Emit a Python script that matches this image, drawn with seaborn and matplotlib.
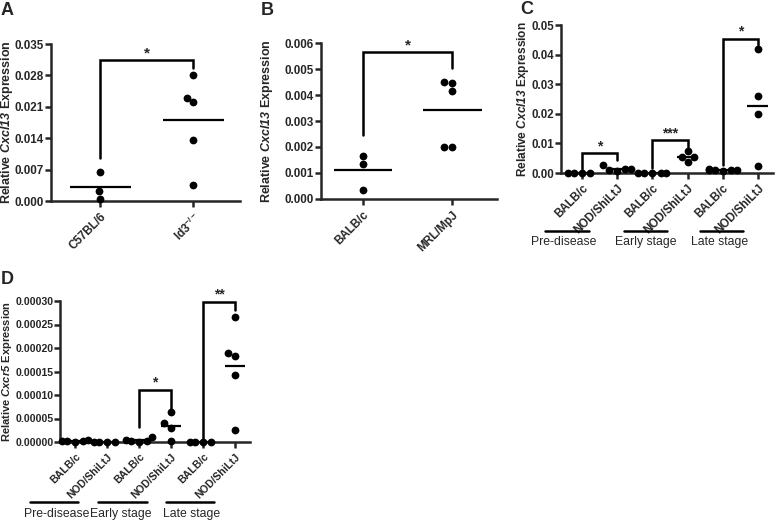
import numpy as np
import pandas as pd
import matplotlib
matplotlib.use("Agg")
import matplotlib.pyplot as plt
from matplotlib.lines import Line2D
import seaborn as sns

# ---- data ----
a_groups = ["C57BL/6", "Id3$^{\\mathbf{-/-}}$"]
a_c57 = [0.0065, 0.0022, 0.0005]
a_id3 = [0.028, 0.023, 0.022, 0.0135, 0.0035]

b_groups = ["BALB/c", "MRL/MpJ"]
b_balb = [0.00165, 0.00135, 0.00035]
b_mrl = [0.00445, 0.00415, 0.0045, 0.0020, 0.0020]

strain_labels = ["BALB/c", "NOD/ShiLtJ", "BALB/c", "NOD/ShiLtJ", "BALB/c", "NOD/ShiLtJ"]
stage_names = ["Pre-disease", "Early stage", "Late stage"]

c_pre_balb = [0.0, 0.0, 0.0, 0.0]
c_pre_nod = [0.0028, 0.0015, 0.0014, 0.0010, 0.0008]
c_early_balb = [0.0, 0.0, 0.0, 0.0, 0.0]
c_early_nod = [0.0073, 0.0055, 0.0055, 0.0037]
c_late_balb = [0.0012, 0.0010, 0.0010, 0.0009, 0.0009, 0.0008]
c_late_nod = [0.042, 0.026, 0.020, 0.0025]

d_pre_balb = [0.000004, 0.000003, 0.000002, 0.000002, 0.000001]
d_pre_nod = [0.0, 0.0, 0.0, 0.0]
d_early_balb = [0.00001, 0.000005, 0.000003, 0.000002, 0.000001]
d_early_nod = [0.000063, 0.00004, 0.00003, 0.000003]
d_late_balb = [0.0, 0.0, 0.0, 0.0]
d_late_nod = [0.000265, 0.00019, 0.000182, 0.000143, 0.000025]

sns.set_style("ticks")
plt.rcParams['font.family'] = ['Liberation Sans', 'DejaVu Sans']
plt.rcParams['mathtext.fontset'] = 'custom'
plt.rcParams['mathtext.rm'] = 'Liberation Sans'
plt.rcParams['mathtext.it'] = 'Liberation Sans:italic'
plt.rcParams['mathtext.bf'] = 'Liberation Sans:bold'
plt.rcParams['mathtext.bfit'] = 'Liberation Sans:italic:bold'

W, H = 780, 521
fig = plt.figure(figsize=(W / 100, H / 100), dpi=100)


def px_axes(left, right, top, bottom):
    return fig.add_axes([left / W, 1 - bottom / H, (right - left) / W, (bottom - top) / H])


def long_df(groups):
    rows = []
    for i, vals in enumerate(groups):
        for v in vals:
            rows.append({"grp": i, "val": v})
    return pd.DataFrame(rows)


def draw_panel(ax, groups, ticklabels, ymax, yticks, yfmt, ylabel, xlim, label_right,
               mean_half=0.33, tick_fs=8.4, label_fs=9):
    df = long_df(groups)
    sns.swarmplot(data=df, x="grp", y="val", ax=ax, color="black", size=5.6,
                  native_scale=True, warn_thresh=1, clip_on=False, zorder=3)
    for i, vals in enumerate(groups):
        m = np.mean(vals)
        ax.hlines(m, i - mean_half, i + mean_half, color="black", lw=1.6, zorder=4)
    ax.set_xlim(*xlim)
    ax.set_ylim(0, ymax)
    ax.set_yticks(yticks)
    ax.set_yticklabels([yfmt.format(t) for t in yticks], fontweight="bold", fontsize=tick_fs)
    ax.set_xticks(range(len(groups)))
    ax.set_xticklabels(ticklabels, rotation=45, ha="right", rotation_mode="anchor",
                       fontweight="bold", fontsize=tick_fs)
    ax.set_xlabel("")
    ax.set_ylabel(ylabel, fontweight="bold", fontsize=label_fs)
    # put the y label's right edge at a fixed pixel column
    bbox = ax.get_position()
    ax.yaxis.set_label_coords((label_right / W - bbox.x0) / bbox.width, 0.5)
    sns.despine(ax=ax)
    for s in ["left", "bottom"]:
        ax.spines[s].set_linewidth(1.8)
    ax.tick_params(axis="y", width=1.8, length=4, pad=1)
    ax.tick_params(axis="x", width=1.8, length=4, pad=3)


def bracket(ax, x0, x1, y_left, y_right, y_top, stars, star_size=11):
    ax.plot([x0, x0, x1, x1], [y_left, y_top, y_top, y_right], color="black",
            lw=1.8, clip_on=False, solid_joinstyle="miter")
    ax.text((x0 + x1) / 2, y_top, stars, ha="center", va="bottom", fontsize=star_size,
            fontweight="bold", clip_on=False)


# ---- Panel A ----
axA = px_axes(51, 240, 44, 201)
draw_panel(axA, [a_c57, a_id3], a_groups, 0.035, np.arange(0, 0.0351, 0.007), "{:.3f}",
           r"Relative $\mathbfit{Cxcl13}$ Expression", (-0.53, 1.5), label_right=15)
bracket(axA, 0, 1, 0.0096, 0.0296, 0.0314, "*")

# ---- Panel B ----
axB = px_axes(321, 497, 43, 199)
draw_panel(axB, [b_balb, b_mrl], b_groups, 0.006, np.arange(0, 0.00601, 0.001), "{:.3f}",
           r"Relative $\mathbfit{Cxcl13}$ Expression", (-0.47, 1.5), label_right=275)
bracket(axB, 0, 1, 0.00246, 0.00503, 0.00565, "*")

# ---- Panel C ----
axC = px_axes(561, 773, 25, 173)
draw_panel(axC, [c_pre_balb, c_pre_nod, c_early_balb, c_early_nod, c_late_balb, c_late_nod],
           strain_labels, 0.05, np.arange(0, 0.0501, 0.01), "{:.2f}",
           r"Relative $\mathbfit{Cxcl13}$ Expression", (-0.6, 5.43), label_right=531,
           mean_half=0.3, tick_fs=8.3, label_fs=8.6)
bracket(axC, 0, 1, 0.0015, 0.0045, 0.0066, "*", 10)
bracket(axC, 2, 3, 0.0017, 0.0088, 0.0111, "***", 10)
bracket(axC, 4, 5, 0.0027, 0.0432, 0.0453, "*", 10)

# ---- Panel D ----
axD = px_axes(60, 250, 301, 442)
draw_panel(axD, [d_pre_balb, d_pre_nod, d_early_balb, d_early_nod, d_late_balb, d_late_nod],
           strain_labels, 0.0003, np.arange(0, 0.000301, 0.00005), "{:.5f}",
           r"Relative $\mathbfit{Cxcr5}$ Expression", (-0.47, 5.47), label_right=14,
           mean_half=0.3, tick_fs=7.6, label_fs=8.0)
axD.tick_params(axis="y", pad=0.5)
bracket(axD, 2, 3, 0.000032, 0.00007, 0.000111, "*", 10)
bracket(axD, 4, 5, 0.0000085, 0.00028, 0.000298, "**", 10)

# ---- group labels under C and D ----
c_lines = [(545, 589), (624, 667), (700, 743)]
c_text_x = [564, 646, 720]
d_lines = [(30, 78), (98, 147), (166, 214)]
d_text_x = [57, 121, 192]
for spans, tx, y_line, y_text in [(c_lines, c_text_x, 231, 242),
                                  (d_lines, d_text_x, 502, 514)]:
    for (x0, x1), x_t, name in zip(spans, tx, stage_names):
        fig.add_artist(Line2D([x0 / W, x1 / W], [1 - y_line / H] * 2, color="black",
                              lw=1.8, transform=fig.transFigure))
        fig.text(x_t / W, 1 - y_text / H, name, ha="center", va="center", fontsize=8.8)

# ---- panel letters ----
for letter, x, y in [("A", 1, 2), ("B", 261, 2), ("C", 520, 0.5), ("D", 1, 271)]:
    fig.text(x / W, 1 - y / H, letter, fontsize=13, fontweight="bold", ha="left", va="top")

fig.savefig("out.png", dpi=100)
